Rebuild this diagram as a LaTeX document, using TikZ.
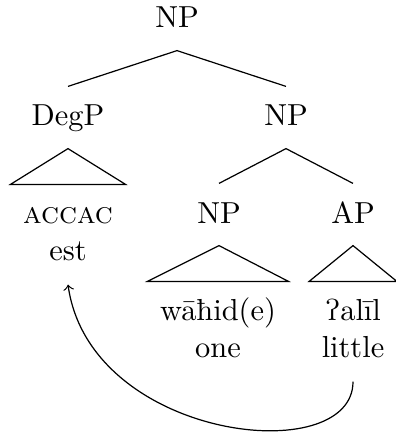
\documentclass[tikz,border=0pt]{standalone}
\usepackage{tipa}
\begin{document}
\begin{tikzpicture}[x=0.329pt, y=-0.329pt,
  cat/.style={anchor=base, inner xsep=0pt, inner ysep=7.24pt, text height=5.59pt, text depth=0pt},
  leaftop/.style={anchor=base, inner xsep=3.95pt, inner ysep=0pt, text height=12.5pt, text depth=0pt},
  leafbot/.style={anchor=base, inner xsep=3.95pt, inner ysep=7.9pt, text depth=0pt},
  branch/.style={line width=0.4pt},
  move/.style={line width=0.4pt, ->}]
\useasboundingbox (0,0) rectangle (395,438);

% category labels
\node[cat] (np0) at (177,28) {NP};
\node[cat] (degp) at (68,126) {DegP};
\node[cat] (np1) at (286,126) {NP};
\node[cat] (np2) at (219,223) {NP};
\node[cat] (ap) at (353,223) {AP};

% terminal strings
\node[leaftop] (accac) at (68,223) {\textsc{accac}};
\node[leafbot] (est) at (68,260) {est};
\node[leaftop] (wahid) at (218,320) {wāħid(e)};
\node[leafbot] (one) at (218,357) {one};
\node[leaftop] (alil) at (353,320) {\textglotstop alīl};
\node[leafbot] (little) at (353,357) {little};

% branches
\draw[branch] (degp.north) -- (np0.south) -- (np1.north);
\draw[branch] (np2.north) -- (np1.south) -- (ap.north);

% roof triangles
\draw[branch] (degp.south) -- (accac.north -| accac.west) -- (accac.north -| accac.east) -- cycle;
\draw[branch] (np2.south) -- (wahid.north -| wahid.west) -- (wahid.north -| wahid.east) -- cycle;
\draw[branch] (ap.south) -- (alil.north -| little.west) -- (alil.north -| little.east) -- cycle;

% movement arrow
\draw[move] (little.south) .. controls +(0,88) and +(22,156) .. (est.south);
\end{tikzpicture}
\end{document}
